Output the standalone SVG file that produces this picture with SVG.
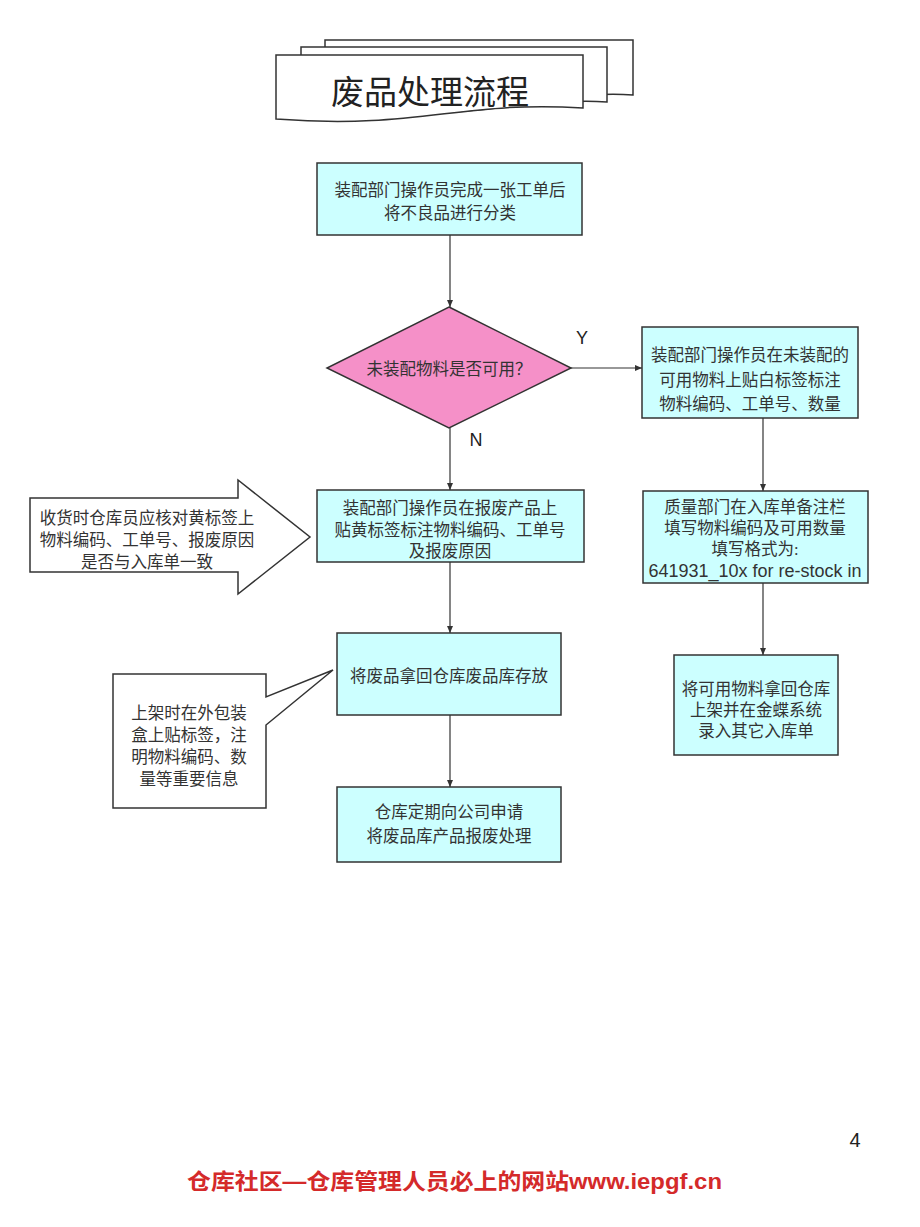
<svg xmlns="http://www.w3.org/2000/svg" width="920" height="1227" viewBox="0 0 920 1227">
<defs>
<style>
.box{fill:#ccffff;stroke:#333;stroke-width:1.5}
.wht{fill:#fff;stroke:#333;stroke-width:1.5}
.t{font-family:"Liberation Serif","Noto Sans CJK SC",serif;font-size:16.5px;fill:#333;text-anchor:middle}
.lat{font-family:"Liberation Sans","Noto Sans CJK SC",sans-serif;fill:#222;text-anchor:middle}
.ln{stroke:#333;stroke-width:1.2;fill:none;marker-end:url(#ah)}
</style>
<marker id="ah" markerWidth="8" markerHeight="8" refX="7" refY="4" orient="auto" markerUnits="userSpaceOnUse">
<path d="M0,1 L7,4 L0,7 Z" fill="#333"/>
</marker>
</defs>
<rect width="920" height="1227" fill="#fff"/>

<g id="title">
<path class="wht" d="M325,40 H633 V95 C560,90 500,115 325,106 Z"/>
<path class="wht" d="M301,47 H607 V102 C530,97 470,122 301,113 Z"/>
<path class="wht" d="M276,55 H583 V108 C460,100 420,130 276,119 Z"/>
<text x="430" y="104" style="font-family:'Noto Sans CJK SC',sans-serif;font-size:33px;fill:#222;text-anchor:middle">废品处理流程</text>
</g>

<g id="connectors">
<line class="ln" x1="450" y1="235" x2="450" y2="307"/>
<line class="ln" x1="571" y1="368" x2="642" y2="368"/>
<line class="ln" x1="450" y1="428" x2="450" y2="490"/>
<line class="ln" x1="450" y1="562" x2="450" y2="633"/>
<line class="ln" x1="450" y1="715" x2="450" y2="787"/>
<line class="ln" x1="763" y1="418" x2="763" y2="491"/>
<line class="ln" x1="763" y1="583" x2="763" y2="655"/>
<text class="lat" x="582" y="344" font-size="18">Y</text>
<text class="lat" x="476" y="446" font-size="18">N</text>
</g>

<g id="n1">
<rect class="box" x="317" y="163" width="265" height="72"/>
<text class="t" x="450" y="196">装配部门操作员完成一张工单后</text>
<text class="t" x="450" y="219">将不良品进行分类</text>
</g>

<g id="n2">
<path d="M449,307 L571,368 L449,428 L327,368 Z" fill="#f590c8" stroke="#333" stroke-width="1.5"/>
<text class="t" x="449" y="375">未装配物料是否可用？</text>
</g>

<g id="n3">
<rect class="box" x="642" y="327" width="216" height="91"/>
<text class="t" x="750" y="361">装配部门操作员在未装配的</text>
<text class="t" x="750" y="386">可用物料上贴白标签标注</text>
<text class="t" x="750" y="410">物料编码、工单号、数量</text>
</g>

<g id="n4">
<rect class="box" x="643" y="491" width="225" height="92"/>
<text class="t" x="755" y="513">质量部门在入库单备注栏</text>
<text class="t" x="755" y="534">填写物料编码及可用数量</text>
<text class="t" x="755" y="555">填写格式为:</text>
<text class="lat" x="755" y="577" font-size="18" style="fill:#333">641931_10x for re-stock in</text>
</g>

<g id="n5">
<rect class="box" x="674" y="655" width="164" height="100"/>
<text class="t" x="756" y="695">将可用物料拿回仓库</text>
<text class="t" x="756" y="716">上架并在金蝶系统</text>
<text class="t" x="756" y="737">录入其它入库单</text>
</g>

<g id="n6">
<rect class="box" x="317" y="490" width="267" height="72"/>
<text class="t" x="450" y="514">装配部门操作员在报废产品上</text>
<text class="t" x="450" y="536">贴黄标签标注物料编码、工单号</text>
<text class="t" x="450" y="557">及报废原因</text>
</g>

<g id="n7">
<path class="wht" d="M30,498 H238 V480 L310,537 L238,594 V572 H30 Z"/>
<text class="t" x="147" y="524">收货时仓库员应核对黄标签上</text>
<text class="t" x="147" y="546">物料编码、工单号、报废原因</text>
<text class="t" x="147" y="568">是否与入库单一致</text>
</g>

<g id="n8">
<rect class="box" x="337" y="633" width="224" height="82"/>
<text class="t" x="449" y="682">将废品拿回仓库废品库存放</text>
</g>

<g id="n9">
<path class="wht" d="M113,674 H266 V697 L333,670 L266,725 V808 H113 Z"/>
<text class="t" x="189" y="719">上架时在外包装</text>
<text class="t" x="189" y="741">盒上贴标签，注</text>
<text class="t" x="189" y="763">明物料编码、数</text>
<text class="t" x="189" y="785">量等重要信息</text>
</g>

<g id="n10">
<rect class="box" x="337" y="787" width="224" height="75"/>
<text class="t" x="449" y="818">仓库定期向公司申请</text>
<text class="t" x="449" y="842">将废品库产品报废处理</text>
</g>

<g id="footer">
<text x="855" y="1147" style="font-family:'Liberation Sans',sans-serif;font-size:20px;fill:#222;text-anchor:middle">4</text>
<text x="187" y="1189" textLength="535" lengthAdjust="spacingAndGlyphs" style="font-family:'Liberation Sans','Noto Sans CJK SC',sans-serif;font-size:22px;fill:#d42a2a;font-weight:bold">仓库社区—仓库管理人员必上的网站www.iepgf.cn</text>
</g>
</svg>
